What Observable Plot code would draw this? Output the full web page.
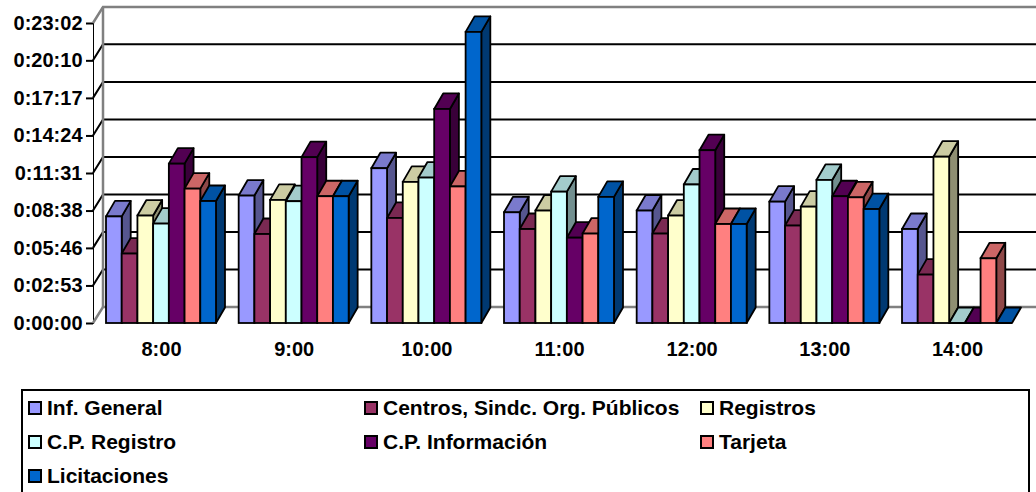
<!DOCTYPE html>
<html>
<head>
<meta charset="utf-8">
<script src="https://cdn.jsdelivr.net/npm/d3@7"></script>
<script src="https://cdn.jsdelivr.net/npm/@observablehq/plot@0.6"></script>
<style>
  body { margin: 0; background: #fff; font-family: "Liberation Sans", Arial, sans-serif; }
  #chart { position: relative; width: 1036px; height: 492px; overflow: hidden; }
  #chart svg { display: block; position: absolute; left: 0; top: 0; }
  #chart svg g[aria-label="y-axis tick"] path { stroke-width: 2; }
  #chart svg g[aria-label="y-axis line"] { stroke-width: 2; }
  #legend { position: absolute; left: 21px; top: 389px; width: 1009px; height: 130px;
            border: 2px solid #000; box-sizing: border-box; background: #fff; }
  .item { position: absolute; height: 34px; display: flex; align-items: center;
          font-weight: bold; font-size: 21px; color: #000; white-space: nowrap; }
  .sw { width: 10px; height: 10px; border: 2px solid #000; margin-right: 5px; flex: none; }
</style>
</head>
<body>
<div id="chart"><div id="legend"></div></div>
<script>
// ---- data ----
const hours = ["8:00", "9:00", "10:00", "11:00", "12:00", "13:00", "14:00"];
const seriesNames = ["Inf. General", "Centros, Sindc. Org. Públicos", "Registros",
  "C.P. Registro", "C.P. Información", "Tarjeta", "Licitaciones"];
// values in seconds
const infGeneral    = [491, 587, 713, 510, 518, 559, 433];
const centros       = [320, 410, 484, 433, 412, 449, 223];
const registros     = [495, 567, 650, 518, 495, 536, 766];
const cpRegistro    = [458, 561, 670, 605, 638, 659, 0];
const cpInformacion = [734, 764, 986, 393, 796, 584, 0];
const tarjeta       = [619, 584, 629, 412, 456, 579, 298];
const licitaciones  = [562, 584, 1341, 581, 456, 525, 0];
const yTickLabels = ["0:00:00", "0:02:53", "0:05:46", "0:08:38", "0:11:31",
  "0:14:24", "0:17:17", "0:20:10", "0:23:02"];

// ---- styles ----
const frontColors = ["#9999FF", "#993366", "#FFFFCC", "#CCFFFF", "#660066", "#FF8080", "#0066CC"];
const topColors   = ["#7A7ACC", "#7A2952", "#CCCCA3", "#A3CCCC", "#520052", "#CC6666", "#0052A3"];
const sideColors  = ["#56568F", "#561D39", "#8F8F72", "#728F8F", "#390039", "#8F4848", "#003972"];

const allValues = [infGeneral, centros, registros, cpRegistro, cpInformacion, tarjeta, licitaciones];
const table = [];
seriesNames.forEach((s, i) => hours.forEach((h, j) => table.push({series: s, si: i, hour: h, value: allValues[i][j]})));

const parseT = (t) => { const [h, m, s] = t.split(":").map(Number); return h * 3600 + m * 60 + s; };
const yTicks = yTickLabels.map(parseT);

const W = 1036, H = 385;
const mL = 93, mR = 11, mT = 23, mB = 62;
const padIn = 0.171, padOut = 0.098;
const step = (W - mL - mR) / (hours.length - padIn + 2 * padOut);
const bandW = step * (1 - padIn);
const bw = bandW / seriesNames.length;
const WALL_DX = 10, WALL_DY = -16;   // back wall offset
const BAR_DX = 9, BAR_DY = -15.5;    // bar depth offset

// back wall, side wall, gridlines
function wallMark(index, scales, values, dims) {
  const y = scales.y;
  const g = d3.create("svg:g").attr("fill", "none");
  const x0 = dims.marginLeft, xEnd = dims.width;
  yTicks.forEach((t, k) => {
    const yy = y(t);
    const edge = (k === 0 || k === yTicks.length - 1);
    g.append("path")
      .attr("d", `M${x0},${yy}L${x0 + WALL_DX},${yy + WALL_DY}L${xEnd},${yy + WALL_DY}`)
      .attr("stroke", edge ? "#808080" : "#000")
      .attr("stroke-width", edge ? 2.5 : 2);
  });
  g.append("path")
    .attr("d", `M${x0 + WALL_DX},${y(yTicks[yTicks.length - 1]) + WALL_DY}L${x0 + WALL_DX},${y(0) + WALL_DY}`)
    .attr("stroke", "#808080").attr("stroke-width", 2.5);
  return g.node();
}

// side and top faces of the bars (drawn behind front faces)
function depthMark(index, scales) {
  const x = scales.x, y = scales.y;
  const g = d3.create("svg:g").attr("stroke", "#000").attr("stroke-width", 1.8).attr("stroke-linejoin", "round");
  hours.forEach((h, j) => {
    seriesNames.forEach((s, i) => {
      const v = allValues[i][j];
      const xl = x(h) + i * bw, xr = xl + bw;
      const yt = y(v), yb = y(0);
      if (v > 0) {
        g.append("path")
          .attr("d", `M${xr},${yt}L${xr + BAR_DX},${yt + BAR_DY}L${xr + BAR_DX},${yb + BAR_DY}L${xr},${yb}Z`)
          .attr("fill", sideColors[i]);
      }
      g.append("path")
        .attr("d", `M${xl},${yt}L${xl + BAR_DX},${yt + BAR_DY}L${xr + BAR_DX},${yt + BAR_DY}L${xr},${yt}Z`)
        .attr("fill", topColors[i]);
    });
  });
  return g.node();
}

const fronts = seriesNames.map((s, i) => Plot.barY(table.filter(d => d.si === i), {
  x: "hour", y: "value", fill: frontColors[i], stroke: "#000", strokeWidth: 1.8,
  insetLeft: i * bw, insetRight: (seriesNames.length - 1 - i) * bw
}));

const chart = Plot.plot({
  width: W, height: H,
  marginLeft: mL, marginRight: mR, marginTop: mT, marginBottom: mB,
  style: { fontFamily: '"Liberation Sans", Arial, sans-serif', fontSize: "20px", fontWeight: "bold",
           color: "#000", background: "transparent", overflow: "visible" },
  x: { domain: hours, paddingInner: padIn, paddingOuter: padOut, round: false,
       tickSize: 0, tickPadding: 18, label: null },
  y: { domain: [0, yTicks[yTicks.length - 1]], ticks: yTicks,
       tickFormat: d => yTickLabels[yTicks.indexOf(d)], tickSize: 7, tickPadding: 4,
       label: null, line: true },
  marks: [wallMark, depthMark, ...fronts]
});
document.getElementById("chart").prepend(chart);

// legend
const legend = document.getElementById("legend");
seriesNames.forEach((s, i) => {
  const it = document.createElement("div");
  it.className = "item";
  it.style.left = (5 + (i % 3) * 336) + "px";
  it.style.top = (Math.floor(i / 3) * 34) + "px";
  const sw = document.createElement("span");
  sw.className = "sw";
  sw.style.background = frontColors[i];
  const tx = document.createElement("span");
  tx.textContent = s;
  it.append(sw, tx);
  legend.append(it);
});
</script>
</body>
</html>
